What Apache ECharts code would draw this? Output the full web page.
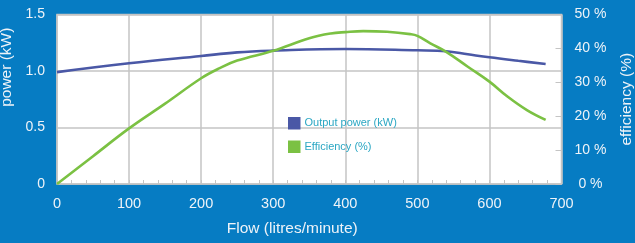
<!DOCTYPE html>
<html lang="en">
<head>
    <meta charset="utf-8">
    <title>Output power and efficiency</title>
    <script src="https://cdn.jsdelivr.net/npm/echarts@6/dist/echarts.min.js"></script>
    <style>
        html, body { margin: 0; padding: 0; background: #067cc3; }
        #main { width: 635px; height: 243px; }
    </style>
</head>
<body>
    <div id="main"></div>
    <script type="text/javascript">
        // flow (litres/minute) -> output power (kW)
        var powerFlow = [0, 100, 200, 250, 300, 400, 500, 540, 570, 600, 640, 678];
        var power = [0.99, 1.068, 1.133, 1.165, 1.18, 1.195, 1.183, 1.175, 1.148, 1.121, 1.09, 1.062];

        // flow (litres/minute) -> efficiency (%)
        var effFlow = [0, 50, 100, 150, 200, 225, 250, 300, 350, 380, 400, 425, 458, 490, 500, 518, 540, 570, 600, 625, 652, 678];
        var efficiency = [0, 8.2, 16.4, 23.7, 31.2, 34.1, 36.4, 39.3, 43, 44.4, 44.8, 45.1, 44.9, 44.2, 43.7, 41.5, 39, 34.6, 30.2, 25.8, 21.8, 18.9];

        var seriesNames = ['Output power (kW)', 'Efficiency (%)'];
        var powerTicks = ['0', '0.5', '1.0', '1.5'];

        var pair = function (xs, ys) {
            return xs.map(function (x, i) { return [x, ys[i]]; });
        };

        var txt = '#eef3f8';
        var grey = '#c4c4c4';
        var font = 'Liberation Sans';

        var myChart = echarts.init(document.getElementById('main'));
        myChart.setOption({
            animation: false,
            backgroundColor: '#067cc3',
            textStyle: { fontFamily: font },
            grid: {
                left: 57, right: 73.5, top: 14.5, bottom: 59,
                outerBoundsMode: 'none',
                containLabel: false,
                show: true,
                backgroundColor: '#ffffff',
                borderColor: grey,
                borderWidth: 1.5
            },
            legend: {
                data: seriesNames,
                orient: 'vertical',
                left: 283, top: 112,
                itemWidth: 12.5, itemHeight: 12.5,
                itemGap: 11,
                icon: 'rect',
                textStyle: { color: '#2ba7c3', fontSize: 11, fontFamily: font, padding: [0, 0, 0, -1] }
            },
            xAxis: {
                type: 'value',
                min: 0, max: 700, interval: 100,
                name: 'Flow (litres/minute)',
                nameLocation: 'middle',
                nameGap: 37,
                nameTextStyle: { color: txt, fontSize: 15.5, padding: [0, 34, 0, 0] },
                axisLine: { show: false },
                axisTick: { show: true, inside: true, length: 4, lineStyle: { color: grey } },
                minorTick: { show: true, splitNumber: 5, length: 4, lineStyle: { color: grey, width: 1 } },
                axisLabel: { color: txt, fontSize: 14.5, margin: 12 },
                splitLine: { show: true, lineStyle: { color: grey, width: 1.5 } }
            },
            yAxis: [{
                type: 'value',
                min: 0, max: 1.5, interval: 0.5,
                name: 'power (kW)',
                nameLocation: 'middle',
                nameRotate: 90,
                nameGap: 31,
                nameTextStyle: { color: txt, fontSize: 15.5, padding: [0, 0, 0, 64] },
                axisLine: { show: false },
                axisTick: { show: false },
                axisLabel: {
                    color: txt, fontSize: 14, margin: 12,
                    formatter: function (v) { return powerTicks[Math.round(v / 0.5)]; }
                },
                splitLine: { show: true, lineStyle: { color: grey, width: 1.5 } }
            }, {
                type: 'value',
                position: 'right',
                min: 0, max: 50, interval: 10,
                name: 'efficiency (%)',
                nameLocation: 'middle',
                nameRotate: 90,
                nameGap: 57,
                nameTextStyle: { color: txt, fontSize: 15.5 },
                axisLine: { show: false },
                axisTick: { show: true, inside: true, length: 6, lineStyle: { color: grey, width: 1 } },
                axisLabel: {
                    color: txt, fontSize: 14, margin: 29, align: 'center',
                    formatter: '{value} %'
                },
                splitLine: { show: false }
            }],
            series: [{
                name: seriesNames[0],
                type: 'line',
                yAxisIndex: 0,
                smooth: 0.4,
                showSymbol: false,
                color: '#4a58a6',
                lineStyle: { width: 2.6, color: '#4a58a6' },
                data: pair(powerFlow, power)
            }, {
                name: seriesNames[1],
                type: 'line',
                yAxisIndex: 1,
                smooth: 0.4,
                showSymbol: false,
                color: '#7bc143',
                lineStyle: { width: 2.6, color: '#7bc143' },
                data: pair(effFlow, efficiency)
            }]
        });
    </script>
</body>
</html>
